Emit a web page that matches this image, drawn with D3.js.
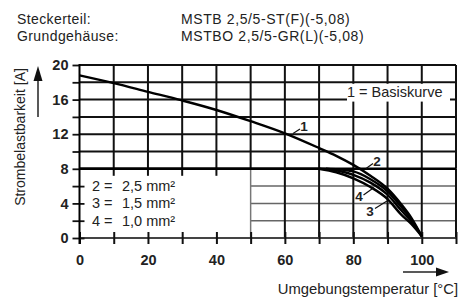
<!DOCTYPE html>
<html>
<head>
<meta charset="utf-8">
<script src="https://cdn.jsdelivr.net/npm/d3@7"></script>
<style>
  body { margin: 0; background: #fff; }
  svg { display: block; font-family: "Liberation Sans", Arial, sans-serif; }
</style>
</head>
<body>
<svg id="chart"></svg>
<script>
// Kurven (Temperatur °C, Strom A)
const curve1 = [[0,18.8],[10,17.9],[20,16.9],[30,15.9],[40,14.8],[50,13.5],[60,12.1],[70,10.4],[75,9.5],[80,8.45],[85,7.2],[90,5.7],[94,3.9],[97,2.3],[100,0.2]];
const curve2 = [[0,8],[70,8],[75,7.95],[80,7.7],[85,6.8],[90,5.4],[94,3.6],[97,2.1],[100,0.2]];
const curve4 = [[72,8],[76,7.75],[80,7.3],[85,6.4],[90,5.0],[94,3.2],[97,1.9],[100,0.2]];
const curve3 = [[70,8],[75,7.6],[80,6.9],[85,5.9],[90,4.5],[94,2.7],[97,1.6],[100,0.2]];

const xTicks = [0,10,20,30,40,50,60,70,80,90,100,110];
const xLabels = [0,20,40,60,80,100];
const yTicks = [0,2,4,6,8,10,12,14,16,18,20];
const yLabels = [0,4,8,12,16,20];

const legendRows = [["2 =", "2,5 mm²", 6], ["3 =", "1,5 mm²", 4], ["4 =", "1,0 mm²", 2]];

const width = 460, height = 302;
const svg = d3.select("#chart").attr("width", width).attr("height", height);

const x = d3.scaleLinear().domain([0, 110]).range([79.5, 456]);
const y = d3.scaleLinear().domain([0, 20]).range([238, 65]);

// Kopfzeilen
const head = svg.append("g").attr("font-size", 14).attr("fill", "#222");
head.append("text").attr("x", 17).attr("y", 24).attr("letter-spacing", 0.4).text("Steckerteil:");
head.append("text").attr("x", 17).attr("y", 41).attr("letter-spacing", 0.4).text("Grundgehäuse:");
head.append("text").attr("x", 181).attr("y", 24).attr("letter-spacing", 0.6).text("MSTB 2,5/5-ST(F)(-5,08)");
head.append("text").attr("x", 181).attr("y", 41).attr("letter-spacing", 0.6).text("MSTBO 2,5/5-GR(L)(-5,08)");

const grid = svg.append("g");

// oberes Raster
grid.selectAll("line.hu").data(yTicks.filter(d => d >= 10)).enter().append("line")
  .attr("x1", x(0)).attr("x2", x(110)).attr("y1", d => y(d)).attr("y2", d => y(d))
  .attr("stroke", "#111").attr("stroke-width", 2);
grid.selectAll("line.vu").data(xTicks.filter(d => d > 0)).enter().append("line")
  .attr("x1", d => x(d)).attr("x2", d => x(d)).attr("y1", y(20)).attr("y2", y(8))
  .attr("stroke", "#111").attr("stroke-width", 2);

// unteres Raster (rechts vom Legendenfeld)
grid.selectAll("line.hl").data([2,4,6]).enter().append("line")
  .attr("x1", x(50)).attr("x2", x(110)).attr("y1", d => y(d)).attr("y2", d => y(d))
  .attr("stroke", "#666").attr("stroke-width", 1.5);
grid.selectAll("line.vl").data(xTicks.filter(d => d >= 50)).enter().append("line")
  .attr("x1", d => x(d)).attr("x2", d => x(d)).attr("y1", y(8)).attr("y2", y(0))
  .attr("stroke", d => d === 50 ? "#777" : "#111").attr("stroke-width", d => d === 50 ? 1.5 : 2);

// Ticks am 8er-Strich
grid.selectAll("line.t8").data([10,20,30,40]).enter().append("line")
  .attr("x1", d => x(d)).attr("x2", d => x(d)).attr("y1", y(8)).attr("y2", y(8) + 7)
  .attr("stroke", "#111").attr("stroke-width", 2);

// 8er-Linie und Nulllinie
grid.append("line").attr("x1", x(0)).attr("x2", x(110)).attr("y1", y(8)).attr("y2", y(8))
  .attr("stroke", "#000").attr("stroke-width", 2.6);
grid.append("line").attr("x1", x(0)).attr("x2", x(110)).attr("y1", y(0)).attr("y2", y(0))
  .attr("stroke", "#444").attr("stroke-width", 1.8);

// x-Achse
const xAxis = d3.axisBottom(x).tickValues(xTicks).tickSize(6)
  .tickFormat(d => xLabels.includes(d) ? d : "");
const gx = svg.append("g").attr("transform", `translate(0,${y(0)})`).call(xAxis);
gx.select(".domain").remove();
gx.selectAll(".tick line").attr("y1", -6).attr("stroke", "#111").attr("stroke-width", 2);
gx.selectAll(".tick text").attr("y", 17).attr("font-size", 14.5).attr("font-weight", "bold")
  .attr("fill", "#222").attr("font-family", "Liberation Sans, Arial, sans-serif");

// y-Achse
const yAxis = d3.axisLeft(y).tickValues(yTicks).tickSize(7)
  .tickFormat(d => yLabels.includes(d) ? d : "");
const gy = svg.append("g").attr("transform", `translate(${x(0)},0)`).call(yAxis);
gy.select(".domain").remove();
gy.selectAll(".tick line").attr("x2", -7).attr("x1", d => d < 8 ? 5 : 0)
  .attr("stroke", "#111").attr("stroke-width", 1.8);
gy.selectAll(".tick text").attr("x", -11).attr("font-size", 14.5).attr("font-weight", "bold")
  .attr("fill", "#222").attr("font-family", "Liberation Sans, Arial, sans-serif");
svg.append("line").attr("x1", x(0)).attr("x2", x(0)).attr("y1", y(20) - 1).attr("y2", y(0) + 6)
  .attr("stroke", "#000").attr("stroke-width", 2);

// Legende unten links
const leg = svg.append("g").attr("font-size", 14.5).attr("fill", "#222");
legendRows.forEach(r => {
  leg.append("text").attr("x", 92).attr("y", y(r[2]) + 5).text(r[0]);
  leg.append("text").attr("x", 122).attr("y", y(r[2]) + 5).text(r[1]);
});

// Basiskurve-Label
svg.append("rect").attr("x", 347).attr("y", y(18) + 1.5).attr("width", 103).attr("height", y(16) - y(18) + 0.5)
  .attr("fill", "#fff");
svg.append("text").attr("x", 347).attr("y", 97).attr("font-size", 14.5).attr("fill", "#222")
  .text("1 = Basiskurve");

// Kurven
const line = d3.line().x(d => x(d[0])).y(d => y(d[1])).curve(d3.curveMonotoneX);
svg.append("g").selectAll("path").data([curve2, curve3, curve4, curve1]).enter().append("path")
  .attr("d", line).attr("fill", "none").attr("stroke", "#000").attr("stroke-width", 2.4);

// Kurvennummern
const marks = [
  { t: "1", tx: 304, ty: 131, p: [[293, 133.5], [300, 129]] },
  { t: "2", tx: 377, ty: 166, p: [[366, 168.5], [373, 163.5]] },
  { t: "4", tx: 359, ty: 201, p: [[363.5, 195], [374, 187.5]] },
  { t: "3", tx: 370, ty: 216, p: [[375, 208.5], [387, 201]] }
];
const mk = svg.append("g");
marks.forEach(m => {
  mk.append("line").attr("x1", m.p[0][0]).attr("y1", m.p[0][1]).attr("x2", m.p[1][0]).attr("y2", m.p[1][1])
    .attr("stroke", "#111").attr("stroke-width", 1.2);
  mk.append("text").attr("x", m.tx).attr("y", m.ty).attr("font-size", 13.5).attr("font-weight", "bold")
    .attr("fill", "#222").attr("text-anchor", "middle").text(m.t);
});

// Achsentitel und Pfeile
svg.append("text").attr("transform", "translate(25,137) rotate(-90)").attr("text-anchor", "middle")
  .attr("font-size", 14).attr("fill", "#222").text("Strombelastbarkeit [A]");
svg.append("line").attr("x1", 38).attr("x2", 38).attr("y1", 117).attr("y2", 78)
  .attr("stroke", "#222").attr("stroke-width", 1.5);
svg.append("path").attr("d", "M38,66 L33.5,81 L42.5,81 Z").attr("fill", "#111");

svg.append("text").attr("x", 458).attr("y", 294).attr("text-anchor", "end")
  .attr("font-size", 14.8).attr("fill", "#222").text("Umgebungstemperatur [°C]");
svg.append("line").attr("x1", 403).attr("x2", 438).attr("y1", 272).attr("y2", 272)
  .attr("stroke", "#222").attr("stroke-width", 1.5);
svg.append("path").attr("d", "M449,272 L436,267.5 L436,276.5 Z").attr("fill", "#111");
</script>
</body>
</html>
